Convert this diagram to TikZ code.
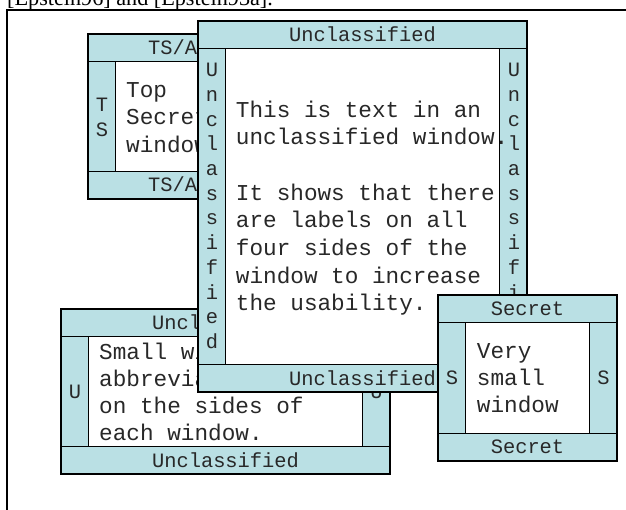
\documentclass[tikz,border=0pt]{standalone}
\usepackage{fontspec}
\setmainfont{Liberation Serif}
\newfontfamily\monofont{Liberation Mono}
\newcommand\barfont{\monofont\fontsize{20.4}{24.7}\selectfont}
\newcommand\bodyfont{\monofont\fontsize{22.7}{27.7}\selectfont}
\definecolor{barcyan}{RGB}{186,224,228}
\definecolor{inktext}{RGB}{40,40,40}

% one labelled window: left, top, right, bottom (bars are 27.5 wide)
\newcommand\labelwin[4]{%
  \filldraw[winline,fill=barcyan] (#1,#2) rectangle (#3,#4);
  \draw[winline] (#1,#2+27.5) -- (#3,#2+27.5);
  \draw[winline] (#1,#4-27.5) -- (#3,#4-27.5);
  \filldraw[winline,fill=white] (#1+27.5,#2+27.5) rectangle (#3-27.5,#4-27.5);
}

\begin{document}
\begin{tikzpicture}[x=1pt,y=-1pt,
  winline/.style={draw=black,line width=1.8pt},
  barlabel/.style={inner sep=0pt,text=inktext,font=\barfont},
  sidelabel/.style={inner sep=0pt,text=inktext,font=\barfont,align=center},
  bodyline/.style={inner sep=0pt,text=inktext,font=\bodyfont,anchor=base west}]
\useasboundingbox (0,0) rectangle (626,509);
\clip (0,0) rectangle (626,509);

% caption line above the frame and the frame itself
\node[inner sep=0pt,anchor=base west,font=\fontsize{22.2}{26}\selectfont] (cite) at (7,5) {[Epstein96] and [Epstein93a].};
\draw[line width=1.8pt] (7,520) -- (7,10) -- (640,10);

% Top Secret window
\labelwin{88}{34}{300}{199}
\node[barlabel,anchor=base west] (ts-top) at (148,54) {TS/A};
\node[barlabel,anchor=base west] (ts-bot) at (148,191.5) {TS/A};
\node[sidelabel] (ts-left) at (102,117.5) {T\\S};
\node[bodyline] (ts-l1) at (126,97) {Top};
\node[bodyline] (ts-l2) at (126,124) {Secret};
\node[bodyline] (ts-l3) at (126,152) {window};

% small unclassified window
\labelwin{61}{309}{390}{474}
\node[barlabel] (sm-top) at (225.5,322.5) {Unclassified};
\node[barlabel] (sm-bot) at (225.5,460.5) {Unclassified};
\node[sidelabel] (sm-left) at (75,391.5) {U};
\node[sidelabel] (sm-right) at (376.5,391.5) {U};
\node[bodyline] (sm-l1) at (99,359) {Small windows have};
\node[bodyline] (sm-l2) at (99,386) {abbreviated labels};
\node[bodyline] (sm-l3) at (99,413) {on the sides of};
\node[bodyline] (sm-l4) at (99,440) {each window.};

% large unclassified window
\labelwin{198}{21}{527}{392}
\node[barlabel] (big-top) at (362.5,34.5) {Unclassified};
\node[barlabel] (big-bot) at (362.5,378) {Unclassified};
\node[sidelabel] (big-left) at (212,206) {U\\n\\c\\l\\a\\s\\s\\i\\f\\i\\e\\d};
\node[sidelabel] (big-right) at (514,206) {U\\n\\c\\l\\a\\s\\s\\i\\f\\i\\e\\d};
\node[bodyline] (big-l1) at (235.7,117) {This is text in an};
\node[bodyline] (big-l2) at (235.7,144.7) {unclassified window.};
\node[bodyline] (big-l4) at (235.7,200.1) {It shows that there};
\node[bodyline] (big-l5) at (235.7,227.8) {are labels on all};
\node[bodyline] (big-l6) at (235.7,255.5) {four sides of the};
\node[bodyline] (big-l7) at (235.7,283.2) {window to increase};
\node[bodyline] (big-l8) at (235.7,310.9) {the usability.};

% secret window
\labelwin{438}{295}{617}{461}
\node[barlabel] (sec-top) at (527.5,309) {Secret};
\node[barlabel] (sec-bot) at (527.5,447) {Secret};
\node[sidelabel] (sec-left) at (452,378) {S};
\node[sidelabel] (sec-right) at (603.5,378) {S};
\node[bodyline] (sec-l1) at (476.7,358) {Very};
\node[bodyline] (sec-l2) at (476.7,385) {small};
\node[bodyline] (sec-l3) at (476.7,412) {window};
\end{tikzpicture}
\end{document}
